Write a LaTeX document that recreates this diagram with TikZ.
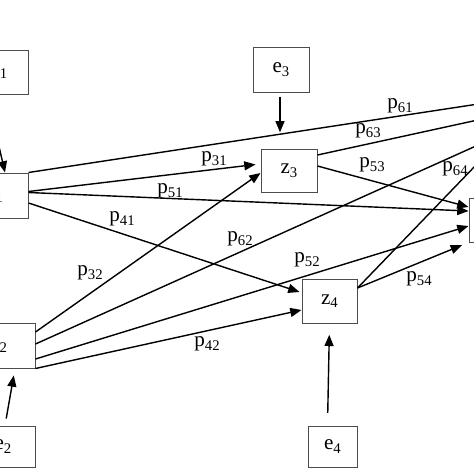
\documentclass[tikz,border=0pt]{standalone}
\usepackage{fontspec}
\setmainfont{Liberation Serif}
\usetikzlibrary{calc}
\usetikzlibrary{arrows.meta}
\newcommand{\subidx}[1]{\raisebox{-2.5pt}{\fontsize{10.5}{11}\selectfont #1}}

\begin{document}
\begin{tikzpicture}[x=0.025cm, y=-0.025cm,
    VAR/.style={rectangle, draw=black!70, fill=white, line width=0.7pt, minimum width=1.4cm, minimum height=1.1cm, inner sep=0pt, font=\fontsize{15}{17}\selectfont},
    PATH/.style={-{Triangle[length=8pt, width=6.4pt]}, black, line width=1pt},
    COEF/.style={inner sep=0pt, font=\fontsize{15}{17}\selectfont}]

    \useasboundingbox (0,0) rectangle (474,474);

    % variables
    \node[VAR, minimum width=1.45cm] (e1) at (-1,72) {e\subidx{1}};
    \node[VAR, minimum width=1.7cm, minimum height=1.125cm] (x1) at (-6,195.5) {x\subidx{1}};
    \node[VAR, minimum width=1.85cm, minimum height=1.125cm] (x2) at (-2,345.5) {x\subidx{2}};
    \node[VAR, minimum width=1.6cm, minimum height=1.025cm] (e2) at (3,446.5) {e\subidx{2}};
    \node[VAR, minimum height=1.125cm] (e3) at (281,69.5) {e\subidx{3}};
    \node[VAR, minimum height=1.075cm] (z3) at (289,170.5) {z\subidx{3}};
    \node[VAR, minimum width=1.375cm] (z4) at (329.5,301) {z\subidx{4}};
    \node[VAR, minimum width=1.225cm, minimum height=1.025cm] (e4) at (332.5,446.5) {e\subidx{4}};
    \node[VAR] (y5) at (497,220) {y\subidx{5}};
    \node[VAR, minimum height=1.4cm] (y6) at (520,125) {y\subidx{6}};

    % errors
    \draw[PATH] ($(e1.south)+(-12,0)$) -- ($(x1.north)+(11,0)$);
    \draw[PATH, shorten <=5pt, shorten >=5pt] ($(e2.north)+(2,0)$) -- ($(x2.south)+(17,0)$);
    \draw[PATH, shorten <=3pt, shorten >=11.5pt] ($(e3.south)+(-1,0)$) -- ($(e3.south |- z3.north)+(-1,0)$);
    \draw[PATH, shorten <=9pt, shorten >=8pt] ($(e4.north)+(-5,0)$) -- (z4.south);

    % paths
    \draw[PATH] (x1.north east) -- ($(y6.west)+(0,-23)$);
    \draw[PATH] ($(x1.east)+(0,-4)$) -- ($(z3.west)+(-5,-6)$);
    \draw[PATH] ($(x1.east)+(0,-3)$) -- ($(y5.west)+(0,-9)$);
    \draw[PATH] ($(x1.east)+(0,7.5)$) -- ($(z4.west)+(-2,-9)$);
    \draw[PATH] ($(x2.east)+(0,-13.5)$) -- ($(z3.west)+(0,2.5)$);
    \draw[PATH] ($(x2.east)+(0,-1.5)$) -- ($(y6.west)+(0,14)$);
    \draw[PATH] ($(x2.east)+(0,13.5)$) -- ($(y5.west)+(0,6)$);
    \draw[PATH] (x2.south east) -- ($(z4.west)+(0,9)$);
    \draw[PATH] ($(z3.east)+(0,-15.5)$) -- ($(y6.west)+(0,-8)$);
    \draw[PATH] ($(z3.east)+(0,-4.5)$) -- ($(y5.west)+(0,-13)$);
    \draw[PATH] ($(z4.east)+(0,-13)$) -- ($(y6.west)+(0,24)$);
    \draw[PATH, shorten >=5pt] ($(z4.east)+(0,-13)$) -- (y5.south west);

    % coefficients
    \node[COEF] (c61) at (400,106) {p\subidx{61}};
    \node[COEF] (c63) at (368,131) {p\subidx{63}};
    \node[COEF] (c31) at (214,159) {p\subidx{31}};
    \node[COEF] (c53) at (372,165) {p\subidx{53}};
    \node[COEF] (c64) at (455,169) {p\subidx{64}};
    \node[COEF] (c51) at (170,191) {p\subidx{51}};
    \node[COEF] (c41) at (122,219) {p\subidx{41}};
    \node[COEF] (c62) at (240,239) {p\subidx{62}};
    \node[COEF] (c32) at (90,273) {p\subidx{32}};
    \node[COEF] (c52) at (307,260) {p\subidx{52}};
    \node[COEF] (c54) at (419,279) {p\subidx{54}};
    \node[COEF] (c42) at (207,344) {p\subidx{42}};
\end{tikzpicture}
\end{document}
